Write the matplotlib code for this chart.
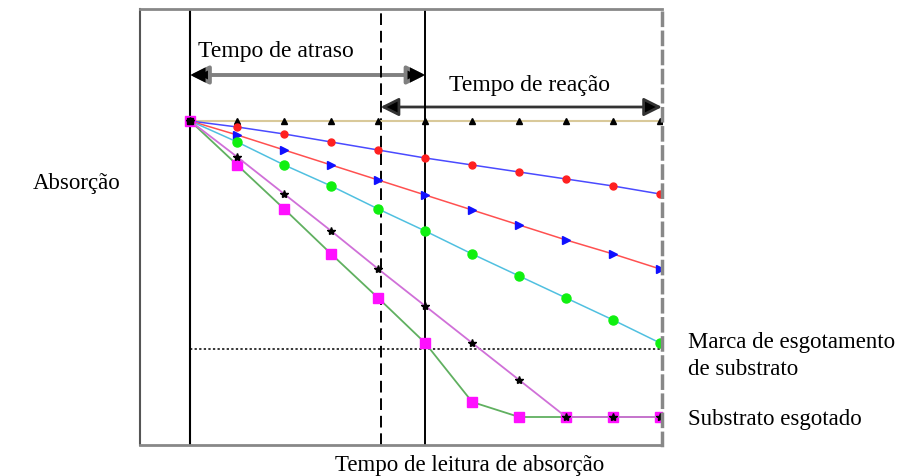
import matplotlib.pyplot as plt
from matplotlib.patches import FancyArrowPatch

plt.rcParams['font.family'] = ['Liberation Serif', 'DejaVu Serif']

# ── Data (absorbance, arbitrary units) ─────────────────────────────────────
t = [0, 1, 2, 3, 4, 5, 6, 7, 8, 9, 10]
flat = [3.24, 3.24, 3.24, 3.24, 3.24, 3.24, 3.24, 3.24, 3.24, 3.24, 3.24]
slow = [3.24, 3.18, 3.11, 3.03, 2.95, 2.87, 2.80, 2.73, 2.66, 2.59, 2.51]
medium = [3.24, 3.10, 2.95, 2.80, 2.65, 2.50, 2.35, 2.20, 2.05, 1.91, 1.76]
fast = [3.24, 3.03, 2.80, 2.59, 2.36, 2.14, 1.91, 1.69, 1.47, 1.25, 1.02]
faster = [3.24, 2.88, 2.51, 2.14, 1.76, 1.39, 1.02, 0.65, 0.28, 0.28, 0.28]
fastest = [3.24, 2.80, 2.36, 1.91, 1.47, 1.02, 0.43, 0.28, 0.28, 0.28, 0.28]

depletion_mark = 0.96
delay_end = 5.0
reaction_start = 4.05

fig = plt.figure(figsize=(9.07, 4.77), dpi=100)
ax = fig.add_axes([140 / 907, 1 - 446 / 477, 522 / 907, 436 / 477])
ax.set_xlim(-1.07, 10.04)
ax.set_ylim(0, 4.36)
ax.set_xticks([])
ax.set_yticks([])

for side in ("top", "bottom"):
    ax.spines[side].set_color("#888888")
    ax.spines[side].set_linewidth(2)
ax.spines["left"].set_color("#555555")
ax.spines["left"].set_linewidth(1.5)
ax.spines["right"].set_color("#888888")
ax.spines["right"].set_linewidth(2.5)
ax.spines["right"].set_linestyle((0, (3.5, 2)))

# reference lines
ax.axvline(0, color="black", lw=1.5)
ax.axvline(reaction_start, color="black", lw=1.4, ls=(0, (6, 3)))
ax.axvline(delay_end, color="black", lw=1.4)
ax.plot([0, 10.04], [depletion_mark, depletion_mark], color="black", lw=1.1, ls=(0, (1.5, 1.5)))

# series
ax.plot(t, flat, color="#d9c99a", lw=1.5, marker="^", ms=5, mfc="black", mec="black")
ax.plot(t, slow, color="#4a4aff", lw=1.1, marker="o", ms=5, mfc="#ff2020", mec="#ff2020")
ax.plot(t, medium, color="#ff5050", lw=1.1, marker=">", ms=6, mfc="#1010ff", mec="#1010ff")
ax.plot(t, fast, color="#50c0e0", lw=1.1, marker="o", ms=6.5, mfc="#10f010", mec="#10f010")
ax.plot(t, fastest, color="#60b060", lw=1.3, marker="s", ms=6.5, mfc="#ff10ff", mec="#ff10ff")
ax.plot(t, faster, color="#d070d8", lw=1.3, marker="*", ms=6, mfc="black", mec="black")
# common starting point
ax.plot(t[0], flat[0], marker="s", ms=5, color="black")

# interval arrows
arr1 = FancyArrowPatch((0, 3.70), (delay_end, 3.70), arrowstyle="<|-|>,head_length=11,head_width=5.5",
                       lw=2.8, ec="#808080", fc="black", mutation_scale=1, shrinkA=0, shrinkB=0)
ax.add_patch(arr1)
ax.add_patch(FancyArrowPatch((0, 3.70), (delay_end, 3.70), arrowstyle="<|-|>,head_length=11,head_width=5.5",
                             lw=0, color="black", mutation_scale=1, shrinkA=0, shrinkB=0))
arr2 = FancyArrowPatch((reaction_start, 3.38), (10.04, 3.38), arrowstyle="<|-|>,head_length=11,head_width=5.5",
                       lw=2, ec="#333333", fc="black", mutation_scale=1, shrinkA=0, shrinkB=0)
ax.add_patch(arr2)

ax.text(0.17, 3.94, "Tempo de atraso", fontsize=17, va="center", ha="left")
ax.text(5.5, 3.60, "Tempo de reação", fontsize=17, va="center", ha="left")

fig.text(33 / 907, 1 - 183 / 477, "Absorção", fontsize=16.5, va="center", ha="left")
fig.text(470 / 907, 1 - 466 / 477, "Tempo de leitura de absorção", fontsize=16.5, va="center", ha="center")
fig.text(688 / 907, 1 - 343 / 477, "Marca de esgotamento", fontsize=16.5, va="center", ha="left")
fig.text(688 / 907, 1 - 370 / 477, "de substrato", fontsize=16.5, va="center", ha="left")
fig.text(688 / 907, 1 - 420 / 477, "Substrato esgotado", fontsize=16.5, va="center", ha="left")

fig.savefig("out.png", dpi=100)
